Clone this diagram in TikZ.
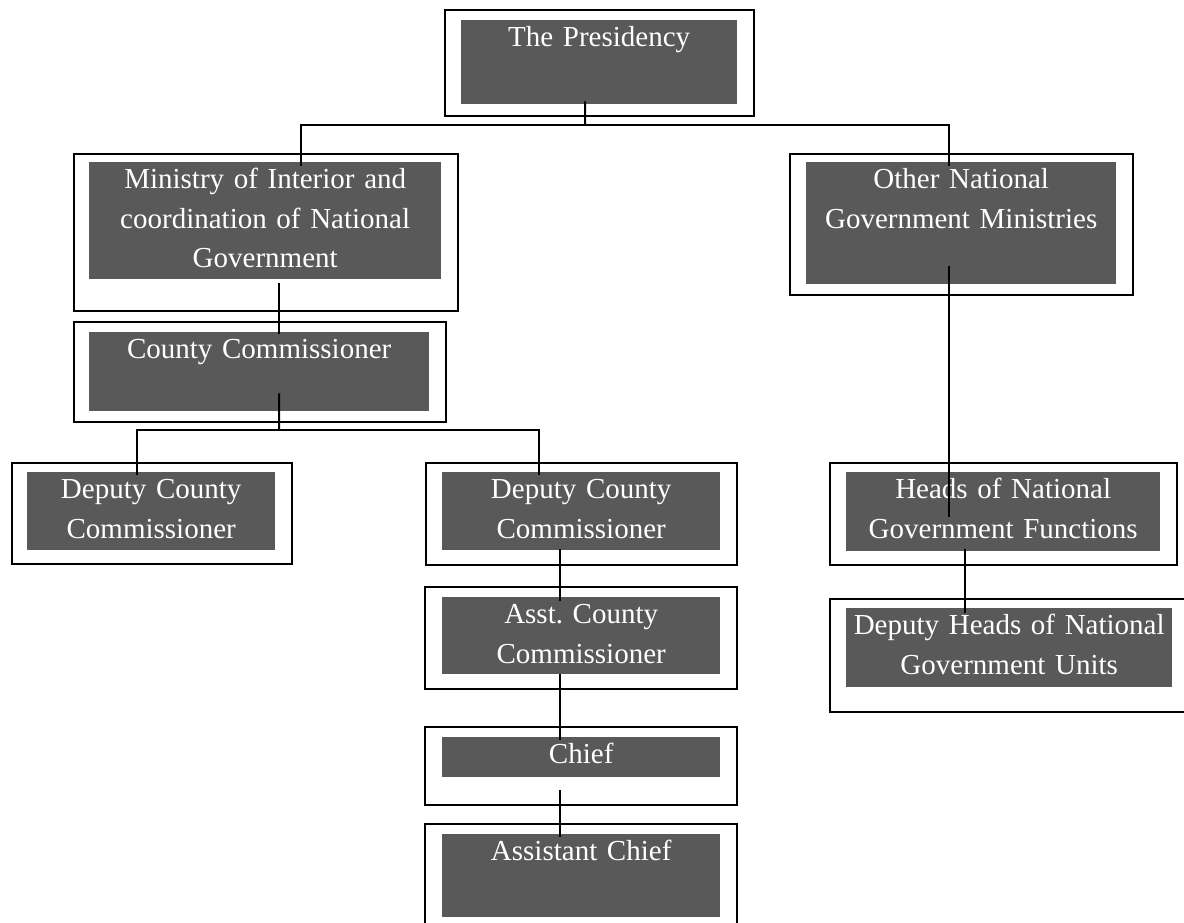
\documentclass[tikz,border=0pt]{standalone}
\usepackage{fontspec}
\setmainfont{Liberation Serif}
\usepackage{xcolor}
\definecolor{orggray}{HTML}{595959}
\usepackage{tikz}
\newcommand{\orgfont}{\fontsize{29pt}{39.5pt}\selectfont\frenchspacing}

\begin{document}
\begin{tikzpicture}[x=1pt,y=-1pt]
\tikzset{
 ob/.style 2 args={draw=black,line width=2pt,inner sep=0pt,anchor=north west,minimum width=#1,minimum height=#2},
 gb/.style 2 args={fill=orggray,text=white,font=\orgfont,align=center,inner sep=0pt,anchor=north west,text width=#1,text height=26.5pt,text depth=#2},
 a/.style={line width=2pt}
}
\useasboundingbox (0,0) rectangle (1184,923);
\clip (0,0) rectangle (1184,923);
% outer frames
\node[ob={309pt}{106pt}] (presbox) at (444,9) {};
\node[ob={384pt}{157pt}] (minbox) at (73,153) {};
\node[ob={343pt}{141pt}] (othbox) at (789,153) {};
\node[ob={372pt}{100pt}] (ctybox) at (73,321) {};
\node[ob={280pt}{101pt}] (dep1box) at (11,462) {};
\node[ob={311pt}{102pt}] (dep2box) at (425,462) {};
\node[ob={347pt}{102pt}] (headsbox) at (829,462) {};
\node[ob={380pt}{113pt}] (dheadsbox) at (829,598) {};
\node[ob={312pt}{102pt}] (asstbox) at (424,586) {};
\node[ob={312pt}{78pt}] (chiefbox) at (424,726) {};
\node[ob={312pt}{117pt}] (achiefbox) at (424,823) {};
% grey boxes
\node[gb={276pt}{57.5pt}] (pres) at (461,20) {The Presidency};
\node[gb={352pt}{90.5pt}] (min) at (89,162) {Ministry of Interior and\\coordination of National\\Government};
\node[gb={310pt}{95.5pt}] (oth) at (806,162) {Other National\\Government Ministries};
\node[gb={340pt}{52.5pt}] (cty) at (89,332) {County Commissioner};
\node[gb={248pt}{51.5pt}] (dep1) at (27,472) {Deputy County\\Commissioner};
\node[gb={278pt}{51.5pt}] (dep2) at (442,472) {Deputy County\\Commissioner};
\node[gb={314pt}{52.5pt}] (heads) at (846,472) {Heads of National\\Government Functions};
\node[gb={326pt}{52.5pt}] (dheads) at (846,608) {Deputy Heads of National\\Government Units};
\node[gb={278pt}{50.5pt}] (asst) at (442,597) {Asst. County\\Commissioner};
\node[gb={278pt}{13.5pt}] (chief) at (442,737) {Chief};
\node[gb={278pt}{56.5pt}] (achief) at (442,834) {Assistant Chief};
% connectors
\coordinate (topbus) at (585,125.5);
\coordinate (ctybus) at (279,429.5);
\draw[a] ([xshift=-14pt,yshift=3pt]pres.south) -- (topbus);
\draw[a] ([xshift=36pt,yshift=-4pt]min.north) |- (topbus) -| ([xshift=-12pt,yshift=-4pt]oth.north);
\draw[a] ([xshift=14pt,yshift=-4pt]min.south) -- ([xshift=20pt,yshift=-2pt]cty.north);
\draw[a] ([xshift=20pt,yshift=18pt]cty.south) -- (ctybus);
\draw[a] ([xshift=-14pt,yshift=-3pt]dep1.north) |- (ctybus) -| ([xshift=-42pt,yshift=-3pt]dep2.north);
\draw[a] ([xshift=-12pt,yshift=18pt]oth.south) -- ([xshift=-54pt,yshift=-45pt]heads.north);
\draw[a] ([xshift=-38pt,yshift=2pt]heads.south) -- ([xshift=-44pt,yshift=-5pt]dheads.north);
\draw[a] ([xshift=-21pt,yshift=1pt]dep2.south) -- ([xshift=-21pt,yshift=-4pt]asst.north);
\draw[a] ([xshift=-21pt]asst.south) -- ([xshift=-21pt,yshift=-3pt]chief.north);
\draw[a] ([xshift=-21pt,yshift=-13pt]chief.south) -- ([xshift=-21pt,yshift=-3pt]achief.north);
\end{tikzpicture}
\end{document}
